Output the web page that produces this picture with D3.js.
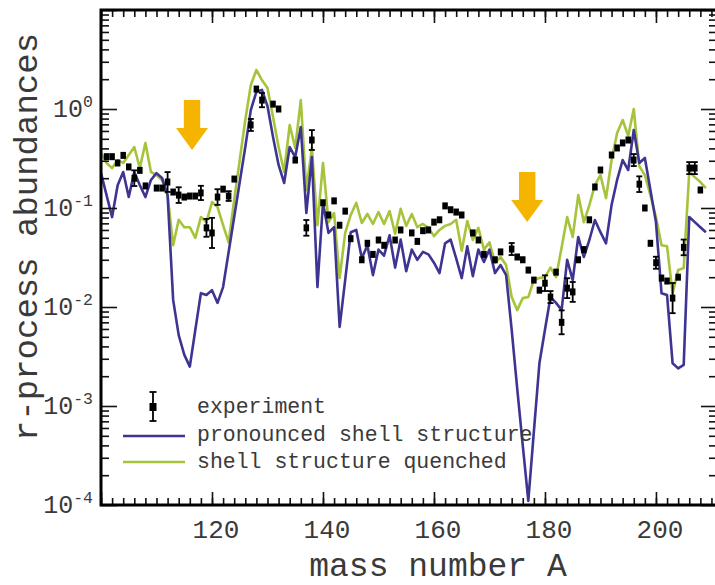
<!DOCTYPE html>
<html>
<head>
<meta charset="utf-8">
<script src="https://cdn.jsdelivr.net/npm/d3@7"></script>
<style>
  body { margin: 0; background: #fff; }
  svg { display: block; }
</style>
</head>
<body>
<svg id="chart" width="715" height="585"></svg>
<script>
// r-process abundances versus mass number A
const massNumbers = d3.range(100, 210);

// calculation with pronounced shell structure (A = 100 ... 209)
const pronounced = [
  0.225, 0.135, 0.081, 0.170, 0.231, 0.129, 0.231, 0.170, 0.129, 0.192,
  0.225, 0.201, 0.135, 0.0118, 0.0052, 0.0033, 0.0025, 0.0059, 0.0138, 0.0132,
  0.0148, 0.0110, 0.0159, 0.036, 0.081, 0.183, 0.413, 0.98, 1.49, 1.56,
  1.07, 0.52, 0.272, 0.179, 0.413, 0.327, 0.658, 0.089, 0.327, 0.0159,
  0.113, 0.056, 0.064, 0.0063, 0.0187, 0.057, 0.060, 0.031, 0.042, 0.021,
  0.038, 0.033, 0.053, 0.025, 0.048, 0.023, 0.038, 0.030, 0.036, 0.034,
  0.028, 0.022, 0.044, 0.048, 0.031, 0.0196, 0.041, 0.0205, 0.038, 0.0285,
  0.038, 0.022, 0.0265, 0.021, 0.0059, 0.0015, 0.0004, 0.00011, 0.00055, 0.0027,
  0.0059, 0.0126, 0.0110, 0.0093, 0.030, 0.0187, 0.051, 0.032, 0.0475, 0.0756,
  0.057, 0.044, 0.107, 0.192, 0.305, 0.242, 0.614, 0.285, 0.320, 0.152,
  0.072, 0.0138, 0.0132, 0.0027, 0.0024, 0.0026, 0.081, 0.072, 0.064, 0.057
];

// calculation with shell structure quenched (A = 100 ... 209)
const quenched = [
  0.359, 0.285, 0.253, 0.305, 0.285, 0.343, 0.413, 0.253, 0.454, 0.231,
  0.215, 0.192, 0.135, 0.042, 0.076, 0.064, 0.064, 0.050, 0.081, 0.072,
  0.115, 0.102, 0.067, 0.045, 0.121, 0.305, 0.774, 1.75, 2.48, 1.96,
  1.63, 0.83, 0.413, 0.231, 0.689, 0.404, 1.23, 0.152, 0.404, 0.067,
  0.285, 0.072, 0.089, 0.0196, 0.056, 0.085, 0.113, 0.0705, 0.087, 0.069,
  0.091, 0.069, 0.093, 0.055, 0.098, 0.066, 0.087, 0.064, 0.069, 0.063,
  0.052, 0.060, 0.066, 0.069, 0.076, 0.037, 0.074, 0.0475, 0.063, 0.038,
  0.045, 0.028, 0.032, 0.0265, 0.0126, 0.0093, 0.0123, 0.0126, 0.0187, 0.0196,
  0.020, 0.025, 0.020, 0.040, 0.081, 0.051, 0.135, 0.072, 0.107, 0.170,
  0.215, 0.126, 0.305, 0.572, 0.774, 0.534, 1.0, 0.265, 0.215, 0.135,
  0.081, 0.042, 0.041, 0.0138, 0.0236, 0.0247, 0.231, 0.205, 0.183, 0.159
];

// solar r-process abundances (experiment)
const expMass = [
  101, 102, 103, 104, 105, 106, 107, 108, 110, 111,
  112, 113, 114, 115, 116, 117, 118, 119, 120, 121,
  122, 123, 124, 127, 128, 129, 131, 132, 135, 137,
  138, 140, 141, 142, 143, 144, 145, 147, 148, 149,
  150, 151, 153, 154, 156, 157, 158, 159, 160, 161,
  162, 163, 164, 165, 167, 168, 169, 171, 172, 174,
  175, 176, 177, 178, 179, 180, 181, 182, 183, 184,
  185, 186, 187, 188, 189, 190, 192, 193, 194, 195,
  196, 197, 198, 199, 200, 201, 202, 203, 204, 205,
  206, 207, 208
];
const expAbund = [
  0.33, 0.33, 0.285, 0.34, 0.26, 0.20, 0.24, 0.167, 0.159, 0.159,
  0.183, 0.145, 0.135, 0.129, 0.132, 0.132, 0.142, 0.063, 0.056, 0.129,
  0.155, 0.132, 0.196, 0.69, 1.59, 1.23, 1.12, 1.0, 0.305, 0.063,
  0.486, 0.113, 0.085, 0.118, 0.067, 0.093, 0.049, 0.030, 0.044, 0.034,
  0.0475, 0.042, 0.0475, 0.060, 0.056, 0.046, 0.059, 0.060, 0.072, 0.076,
  0.105, 0.096, 0.091, 0.085, 0.056, 0.0475, 0.034, 0.030, 0.036, 0.0385,
  0.032, 0.030, 0.0236, 0.0187, 0.0148, 0.0174, 0.0126, 0.0225, 0.0070, 0.0155,
  0.0142, 0.030, 0.038, 0.076, 0.163, 0.242, 0.343, 0.404, 0.454, 0.486,
  0.305, 0.174, 0.100, 0.044, 0.028, 0.0196, 0.0183, 0.0123, 0.020, 0.040,
  0.253, 0.253, 0.152
];
// multiplicative error (1 = no visible bar)
const expErr = [
  1, 1, 1, 1, 1, 1.2, 1, 1, 1, 1,
  1.26, 1, 1.2, 1, 1, 1, 1.18, 1.23, 1.42, 1.2,
  1, 1.12, 1, 1.15, 1, 1.18, 1, 1, 1, 1.2,
  1.26, 1, 1, 1, 1, 1, 1, 1, 1, 1,
  1, 1, 1, 1, 1, 1, 1, 1, 1, 1,
  1, 1, 1, 1, 1, 1, 1, 1, 1, 1.15,
  1, 1, 1, 1, 1, 1.2, 1.15, 1, 1.32, 1.26,
  1.26, 1, 1, 1, 1, 1, 1, 1, 1, 1,
  1.15, 1.2, 1, 1, 1.15, 1, 1, 1.42, 1, 1.2,
  1.15, 1.15, 1
];

const xTickLabels = [120, 140, 160, 180, 200];
const yDecades = [-4, -3, -2, -1, 0];
const legendLabels = ["experiment", "pronounced shell structure", "shell structure quenched"];

// closed-shell markers (mass number, abundance at arrow tip)
const arrowMass = [116.4, 176.8];
const arrowTip = [0.385, 0.072];

const colors = { pronounced: "#3d3591", quenched: "#a5c43b", exp: "#000", arrow: "#f4b400", text: "#3a3a3a" };
const FONT = "'Liberation Mono', 'Courier New', monospace";

const svg = d3.select("#chart");
const x = d3.scaleLinear().domain([100, 211]).range([101, 717]);
const y = d3.scaleLog().domain([1e-4, 10]).range([505, 10]);

// ---- model curves ----
const line = d3.line()
  .x((d, i) => x(massNumbers[i]))
  .y(d => y(d));

svg.append("path").datum(quenched)
  .attr("fill", "none").attr("stroke", colors.quenched)
  .attr("stroke-width", 2.6).attr("stroke-linejoin", "round")
  .attr("d", line);

svg.append("path").datum(pronounced)
  .attr("fill", "none").attr("stroke", colors.pronounced)
  .attr("stroke-width", 2.6).attr("stroke-linejoin", "round")
  .attr("d", line);

// ---- experimental points ----
const expData = expMass.map((a, i) => ({ a, v: expAbund[i], e: expErr[i] }));
const pts = svg.append("g").attr("class", "experiment");
pts.selectAll("g").data(expData).join("g").each(function (d) {
  const g = d3.select(this);
  const cx = x(d.a);
  if (d.e > 1) {
    const y0 = y(d.v * d.e), y1 = y(d.v / d.e);
    g.append("line").attr("x1", cx).attr("x2", cx).attr("y1", y0).attr("y2", y1)
      .attr("stroke", colors.exp).attr("stroke-width", 1.8);
    [y0, y1].forEach(yy => g.append("line")
      .attr("x1", cx - 3).attr("x2", cx + 3).attr("y1", yy).attr("y2", yy)
      .attr("stroke", colors.exp).attr("stroke-width", 1.8));
  }
  g.append("rect").attr("x", cx - 2.75).attr("y", y(d.v) - 3.5)
    .attr("width", 5.5).attr("height", 7).attr("fill", colors.exp);
});

// ---- arrows ----
arrowMass.forEach((a, i) => {
  const cx = x(a), ty = y(arrowTip[i]);
  const hw = 16, sw = 8.2, hh = 22, sl = 28;
  const p = d3.path();
  p.moveTo(cx - sw, ty - hh - sl);
  p.lineTo(cx + sw, ty - hh - sl);
  p.lineTo(cx + sw, ty - hh);
  p.lineTo(cx + hw, ty - hh);
  p.lineTo(cx, ty);
  p.lineTo(cx - hw, ty - hh);
  p.lineTo(cx - sw, ty - hh);
  p.closePath();
  svg.append("path").attr("d", p.toString()).attr("fill", colors.arrow);
});

// ---- axes (ticks pointing inward) ----
const minorX = d3.range(100, 211, 2);
const majorX = d3.range(100, 211, 20);
const minorY = yDecades.flatMap(e => d3.range(2, 10).map(k => k * Math.pow(10, e)));
const majorY = yDecades.map(e => Math.pow(10, e)).concat([10]);

function styleTicks(g) {
  g.select(".domain").remove();
  g.selectAll(".tick line").attr("stroke", "#111").attr("stroke-width", 1.6);
  g.selectAll(".tick text").remove();
}
const axes = svg.append("g");
axes.append("g").attr("transform", "translate(0,505)")
  .call(d3.axisBottom(x).tickValues(minorX).tickSize(-7).tickFormat("")).call(styleTicks);
axes.append("g").attr("transform", "translate(0,505)")
  .call(d3.axisBottom(x).tickValues(majorX).tickSize(-13).tickFormat("")).call(styleTicks);
axes.append("g").attr("transform", "translate(0,10)")
  .call(d3.axisTop(x).tickValues(minorX).tickSize(-7).tickFormat("")).call(styleTicks);
axes.append("g").attr("transform", "translate(0,10)")
  .call(d3.axisTop(x).tickValues(majorX).tickSize(-13).tickFormat("")).call(styleTicks);
axes.append("g").attr("transform", "translate(101,0)")
  .call(d3.axisLeft(y).tickValues(minorY).tickSize(-8).tickFormat("")).call(styleTicks);
axes.append("g").attr("transform", "translate(101,0)")
  .call(d3.axisLeft(y).tickValues(majorY).tickSize(-16).tickFormat("")).call(styleTicks);
axes.append("g").attr("transform", "translate(717,0)")
  .call(d3.axisRight(y).tickValues(minorY).tickSize(-8).tickFormat("")).call(styleTicks);
axes.append("g").attr("transform", "translate(717,0)")
  .call(d3.axisRight(y).tickValues(majorY).tickSize(-16).tickFormat("")).call(styleTicks);

// frame
svg.append("rect").attr("x", 101).attr("y", 10).attr("width", 616).attr("height", 495)
  .attr("fill", "none").attr("stroke", "#000").attr("stroke-width", 3);

// tick labels
svg.append("g").selectAll("text").data(xTickLabels).join("text")
  .attr("x", d => x(d) + 4).attr("y", 538)
  .attr("text-anchor", "middle")
  .attr("font-family", FONT).attr("font-size", 26).attr("fill", colors.text)
  .text(d => d);

const yl = svg.append("g").selectAll("text").data(yDecades).join("text")
  .attr("x", 93).attr("y", d => y(Math.pow(10, d)) + 8)
  .attr("text-anchor", "end")
  .attr("font-family", FONT).attr("font-size", 25).attr("fill", colors.text);
yl.append("tspan").text("10");
yl.append("tspan").attr("dy", -10).attr("font-size", 16.5).text(d => String(d));

// axis titles
svg.append("text")
  .attr("transform", "translate(37,237) rotate(-90)")
  .attr("text-anchor", "middle")
  .attr("font-family", FONT).attr("font-size", 34).attr("fill", colors.text)
  .text("r-process abundances");
svg.append("text")
  .attr("x", 438).attr("y", 576)
  .attr("text-anchor", "middle")
  .attr("font-family", FONT).attr("font-size", 33).attr("fill", colors.text)
  .text("mass number A");

// ---- legend ----
const lg = svg.append("g");
lg.append("line").attr("x1", 153).attr("x2", 153).attr("y1", 392).attr("y2", 421)
  .attr("stroke", colors.exp).attr("stroke-width", 1.8);
[392, 421].forEach(yy => lg.append("line").attr("x1", 149.5).attr("x2", 156.5)
  .attr("y1", yy).attr("y2", yy).attr("stroke", colors.exp).attr("stroke-width", 1.8));
lg.append("rect").attr("x", 149.5).attr("y", 403).attr("width", 7).attr("height", 8).attr("fill", colors.exp);
lg.append("line").attr("x1", 123).attr("x2", 185).attr("y1", 436).attr("y2", 436)
  .attr("stroke", colors.pronounced).attr("stroke-width", 2.6);
lg.append("line").attr("x1", 123).attr("x2", 185).attr("y1", 462).attr("y2", 462)
  .attr("stroke", colors.quenched).attr("stroke-width", 2.6);
lg.selectAll("text.lab").data(legendLabels).join("text").attr("class", "lab")
  .attr("x", 197).attr("y", (d, i) => [413, 441, 468][i])
  .attr("font-family", FONT).attr("font-size", 21.5).attr("fill", colors.text)
  .text(d => d);
</script>
</body>
</html>
